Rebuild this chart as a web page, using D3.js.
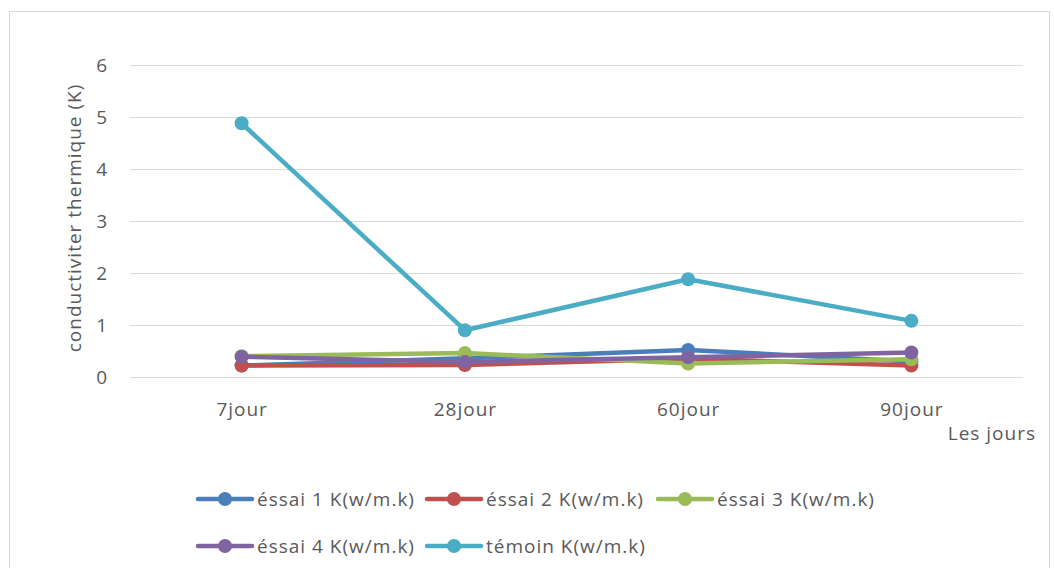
<!DOCTYPE html>
<html>
<head>
<meta charset="utf-8">
<script src="https://cdn.jsdelivr.net/npm/d3@7"></script>
<style>
  html, body { margin: 0; padding: 0; background: #fff; }
  svg { display: block; font-family: "Open Sans", "Noto Sans", sans-serif; }
  svg text { letter-spacing: 1px; }
</style>
</head>
<body>
<svg id="chart" width="1054" height="568"></svg>
<script>
// Curing age categories
const categories = ["7jour", "28jour", "60jour", "90jour"];

// Thermal conductivity per series, K (W/m.K)
const essai1 = [0.22, 0.36, 0.52, 0.30];
const essai2 = [0.22, 0.23, 0.35, 0.22];
const essai3 = [0.40, 0.46, 0.26, 0.34];
const essai4 = [0.39, 0.29, 0.38, 0.47];
const temoin = [4.88, 0.90, 1.88, 1.08];

const seriesNames = ["éssai 1 K(w/m.k)", "éssai 2 K(w/m.k)", "éssai 3 K(w/m.k)", "éssai 4 K(w/m.k)", "témoin K(w/m.k)"];
const seriesValues = [essai1, essai2, essai3, essai4, temoin];
const seriesColors = ["#4a7ebb", "#c0504d", "#9bbb59", "#8064a2", "#4bacc6"];

const yTicks = [0, 1, 2, 3, 4, 5, 6];

const svg = d3.select("#chart");
const textColor = "#595959";
const fontSize = 19;

// Outer chart frame
svg.append("rect")
  .attr("x", 9.5).attr("y", 11.5)
  .attr("width", 1040).attr("height", 570)
  .attr("fill", "#fff").attr("stroke", "#d9d9d9").attr("stroke-width", 1);

const plot = { left: 130, right: 1023, top: 65, bottom: 377 };

const x = d3.scalePoint()
  .domain(categories)
  .range([plot.left, plot.right])
  .padding(0.5);

const y = d3.scaleLinear()
  .domain([0, 6])
  .range([plot.bottom, plot.top]);

// Horizontal gridlines
svg.append("g")
  .selectAll("line")
  .data(yTicks)
  .join("line")
  .attr("x1", plot.left).attr("x2", plot.right)
  .attr("y1", d => Math.round(y(d)) + 0.5)
  .attr("y2", d => Math.round(y(d)) + 0.5)
  .attr("stroke", "#d9d9d9").attr("stroke-width", 1);

// Y axis labels
const yAxis = d3.axisLeft(y).tickValues(yTicks).tickSize(0).tickPadding(0).tickFormat(d3.format("d"));
const gy = svg.append("g").attr("transform", `translate(${plot.left - 22},0)`).call(yAxis);
gy.select(".domain").remove();
gy.selectAll("text")
  .attr("fill", textColor).attr("font-size", fontSize)
  .attr("font-family", "Open Sans, sans-serif")
  .attr("text-anchor", "end").attr("dy", "0.35em");

// X axis labels
const xAxis = d3.axisBottom(x).tickSize(0).tickPadding(0);
const gx = svg.append("g").attr("transform", `translate(0,${plot.bottom + 32})`).call(xAxis);
gx.select(".domain").remove();
gx.selectAll("text")
  .attr("fill", textColor).attr("font-size", fontSize)
  .attr("font-family", "Open Sans, sans-serif")
  .attr("dy", "0.35em").attr("y", 0);

// Axis titles
svg.append("text")
  .attr("transform", `translate(74,218) rotate(-90)`)
  .attr("text-anchor", "middle")
  .attr("dy", "0.35em")
  .attr("fill", textColor).attr("font-size", 19)
  .text("conductiviter thermique (K)");

svg.append("text")
  .attr("x", 1036).attr("y", 433)
  .attr("text-anchor", "end").attr("dy", "0.35em")
  .attr("fill", textColor).attr("font-size", 19)
  .text("Les jours");

// Series lines and markers
const line = d3.line().x((d, i) => x(categories[i])).y(d => y(d));

seriesValues.forEach((vals, s) => {
  const g = svg.append("g");
  g.append("path")
    .datum(vals)
    .attr("d", line)
    .attr("fill", "none")
    .attr("stroke", seriesColors[s])
    .attr("stroke-width", 4.5)
    .attr("stroke-linejoin", "round")
    .attr("stroke-linecap", "round");
  g.selectAll("circle")
    .data(vals)
    .join("circle")
    .attr("cx", (d, i) => x(categories[i]))
    .attr("cy", d => y(d))
    .attr("r", 7)
    .attr("fill", seriesColors[s]);
});

// Legend
const legendPos = [
  { x: 198, y: 499 }, { x: 427, y: 499 }, { x: 658, y: 499 },
  { x: 198, y: 546 }, { x: 427, y: 546 }
];
seriesNames.forEach((name, s) => {
  const p = legendPos[s];
  const g = svg.append("g").attr("transform", `translate(${p.x},${p.y})`);
  g.append("line")
    .attr("x1", 0).attr("x2", 54).attr("y1", 0).attr("y2", 0)
    .attr("stroke", seriesColors[s]).attr("stroke-width", 4.5)
    .attr("stroke-linecap", "round");
  g.append("circle").attr("cx", 27).attr("cy", 0).attr("r", 7).attr("fill", seriesColors[s]);
  g.append("text")
    .attr("x", 59).attr("y", 0).attr("dy", "0.35em")
    .attr("fill", textColor).attr("font-size", fontSize)
    .text(name);
});
</script>
</body>
</html>
